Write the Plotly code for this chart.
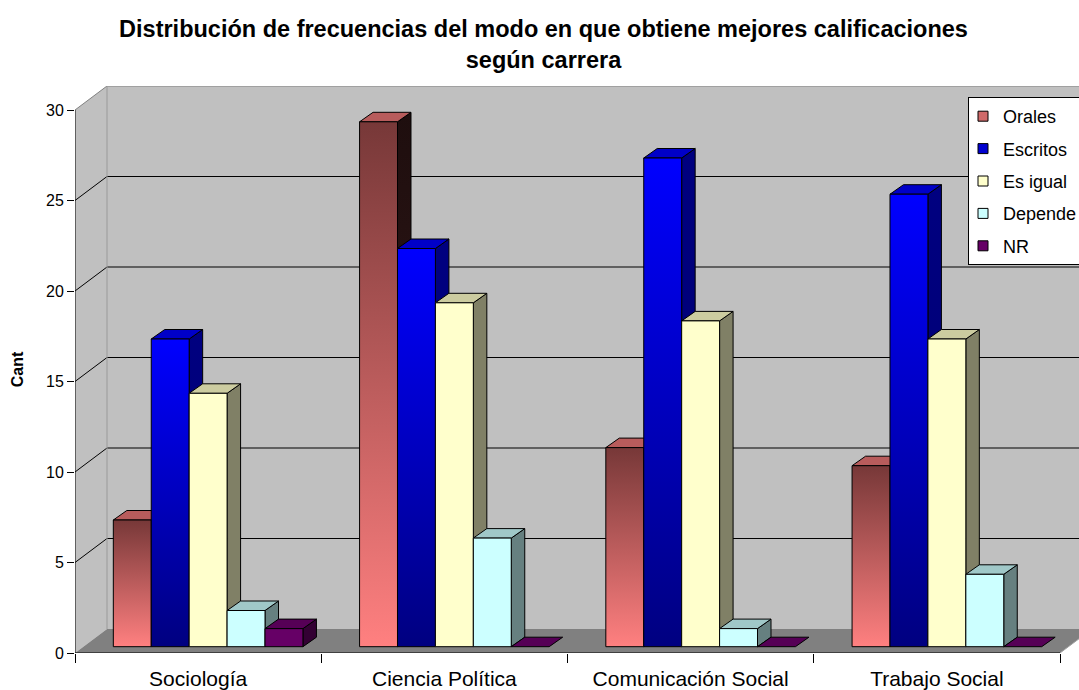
import plotly.graph_objects as go

# ---------------- data ----------------
categories = ["Sociología", "Ciencia Política", "Comunicación Social", "Trabajo Social"]
series_names = ["Orales", "Escritos", "Es igual", "Depende", "NR"]
orales = [7, 29, 11, 10]
escritos = [17, 22, 27, 25]
es_igual = [14, 19, 18, 17]
depende = [2, 6, 1, 4]
nr = [1, 0, 0, 0]
y_ticks = [0, 5, 10, 15, 20, 25, 30]
title_text = "Distribución de frecuencias del modo en que obtiene mejores calificaciones<br>según carrera"
y_title = "Cant"

values = [orales, escritos, es_igual, depende, nr]

# ---------------- styles ----------------
styles = {
    "Orales":   dict(front=("#ff8080", "#773838"), top="#b85c5c", side=("#3a1c1c", "#1e0e0e"), legend="#d06a6a"),
    "Escritos": dict(front=("#000080", "#0000ff"), top="#0000c8", side=("#000070", "#000080"), legend="#0000d0"),
    "Es igual": dict(front=("#ffffcc", "#ffffcc"), top="#cccca0", side=("#808066", "#808066"), legend="#ffffcc"),
    "Depende":  dict(front=("#ccffff", "#ccffff"), top="#a0c8c8", side=("#668080", "#668080"), legend="#ccffff"),
    "NR":       dict(front=("#660066", "#660066"), top="#560056", side=("#330033", "#330033"), legend="#660066"),
}
FONT = "Liberation Sans, Arial, sans-serif"
W, H = 1079, 690
ML, MR, MT, MB = 75, 0, 86, 37
n_cat = len(categories)
ymax_front = max(y_ticks)
cat_px = (1060 - ML) / n_cat          # pixel width of a category on the front plane
unit_px = (653 - 110) / ymax_front    # pixels per value unit
xmax = (W - ML - MR) / cat_px
DX, DY = 32 / cat_px, 24 / unit_px    # wall depth
ymax = ymax_front + DY
bw = 0.154                            # bar width (category units)
FX, FY = 10 / cat_px, 6.3 / unit_px   # bar front offset from front plane
BX, BY = 13.5 / cat_px, 9.5 / unit_px # bar depth

traces = []


def poly(xs, ys, fill=None, grad=None, line_color="black", lw=1):
    t = dict(x=list(xs) + [xs[0]], y=list(ys) + [ys[0]], mode="lines", fill="toself",
             line=dict(color=line_color, width=lw), hoverinfo="skip", showlegend=False)
    if grad is not None and grad[0] != grad[1]:
        t["fillgradient"] = dict(type="vertical", colorscale=[[0, grad[0]], [1, grad[1]]])
    else:
        t["fillcolor"] = fill if fill is not None else grad[0]
    return go.Scatter(**t)


def line(xs, ys, color="black", lw=1):
    return go.Scatter(x=xs, y=ys, mode="lines", line=dict(color=color, width=lw),
                      hoverinfo="skip", showlegend=False)


# walls and floor
far = xmax + 1
traces.append(poly([DX, far, far, DX], [DY, DY, ymax_front + DY, ymax_front + DY], fill="#c0c0c0", line_color="#c0c0c0", lw=0))
traces.append(poly([0, DX, DX, 0], [0, DY, ymax_front + DY, ymax_front], fill="#c0c0c0", line_color="#c0c0c0", lw=0))
traces.append(poly([0, n_cat, n_cat + DX, DX], [0, 0, DY, DY], fill="#808080", line_color="#808080", lw=0))
for v in y_ticks[1:-1]:
    traces.append(line([0, DX, far], [v, v + DY, v + DY], color="black", lw=1))
# wall edges
traces.append(line([0, DX, far], [ymax_front, ymax_front + DY, ymax_front + DY], color="#808080", lw=1))
traces.append(line([DX, DX], [DY, ymax_front + DY], color="#9a9a9a", lw=1))
traces.append(line([n_cat, n_cat + DX], [0, DY], color="#a0a0a0", lw=1))

# bars (painter's order: left to right)
n_ser = len(series_names)
gap = (1 - n_ser * bw) / 2
for c in range(n_cat):
    for s, name in enumerate(series_names):
        st = styles[name]
        v = values[s][c]
        x0 = c + gap + s * bw + FX
        x1 = x0 + bw
        y0 = FY
        y1 = FY + v
        if v > 0:
            traces.append(poly([x1, x1 + BX, x1 + BX, x1], [y0, y0 + BY, y1 + BY, y1], grad=st["side"]))
        traces.append(poly([x0, x1, x1 + BX, x0 + BX], [y1, y1, y1 + BY, y1 + BY], fill=st["top"]))
        if v > 0:
            traces.append(poly([x0, x1, x1, x0], [y0, y0, y1, y1], grad=st["front"]))

# front axes
traces.append(line([0, 0], [0, ymax_front], color="black", lw=1))
traces.append(line([0, n_cat], [0, 0], color="black", lw=1))

# legend entries
for s, name in enumerate(series_names):
    traces.append(go.Scatter(x=[None], y=[None], mode="markers", name=name, legendgroup=name,
                             marker=dict(symbol="square", size=10, color=styles[name]["legend"],
                                         line=dict(color="black", width=1))))

fig = go.Figure(traces)
fig.update_layout(
    width=W, height=H,
    margin=dict(l=ML, r=MR, t=MT, b=MB, autoexpand=False),
    paper_bgcolor="white", plot_bgcolor="white",
    font=dict(family=FONT, color="black"),
    title=dict(text=title_text, x=0.5 + 4 / W, xanchor="center", y=0.946, yanchor="top", yref="container",
               font=dict(size=23.5, family=FONT, weight="bold", color="black")),
    showlegend=True,
    legend=dict(x=(968 - ML) / (W - ML - MR), xanchor="left", y=(653 - 97) / (H - MT - MB), yanchor="top",
                bgcolor="white", bordercolor="black", borderwidth=1, indentation=-6,
                font=dict(size=18, family=FONT), tracegroupgap=6, itemwidth=30),
    xaxis=dict(range=[0, xmax], tickmode="array", tickvals=[c + 0.5 for c in range(n_cat)],
               ticktext=categories, ticks="", showgrid=False, zeroline=False, showline=False,
               automargin=False,
               tickfont=dict(size=21, family=FONT), ticklabelstandoff=11,
               minor=dict(ticks="outside", ticklen=9, tickcolor="black", tickwidth=1,
                          tickmode="linear", tick0=0, dtick=1, showgrid=False)),
    yaxis=dict(range=[0, ymax], tickmode="array", tickvals=y_ticks, ticks="outside", ticklen=7,
               tickcolor="black", showgrid=False, zeroline=False, showline=False,
               automargin=False, ticklabelstandoff=0,
               tickfont=dict(size=16, family=FONT),
               title=dict(text=y_title, font=dict(size=16, family=FONT, weight="bold"), standoff=18)),
)
fig.write_html("out.html", config={"displayModeBar": False},
               post_script="document.body.style.margin='0';document.body.style.overflow='hidden';")
